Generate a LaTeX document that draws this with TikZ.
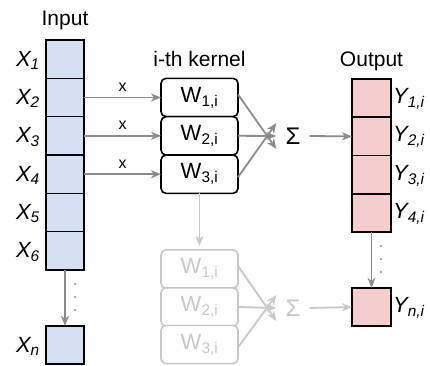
\documentclass[tikz,border=0pt]{standalone}
\usepackage{fontspec}
\setmainfont{Liberation Sans}
\usetikzlibrary{arrows.meta}
\definecolor{inblue}{HTML}{D4E1F4}
\definecolor{outpink}{HTML}{F5CDCD}
\definecolor{arrgray}{HTML}{8C8C8C}
\definecolor{fadegray}{HTML}{C8C8C8}
\begin{document}
\begin{tikzpicture}[x=1pt,y=-1pt,
  incell/.style={draw=black,line width=1.6pt,fill=inblue,minimum width=38pt,minimum height=38.3pt,inner sep=0pt,outer sep=0pt},
  outcell/.style={draw=black,line width=1.6pt,fill=outpink,minimum width=39pt,minimum height=38.25pt,inner sep=0pt,outer sep=0pt},
  kbox/.style={draw=black,line width=1.6pt,fill=white,rounded corners=5pt,minimum width=77pt,minimum height=38.3pt,inner sep=0pt,outer sep=0pt,font=\fontsize{22}{24}\selectfont},
  fkbox/.style={kbox,draw=fadegray,text=fadegray},
  arr/.style={draw=arrgray,line width=1.8pt,-{Stealth[length=10pt,width=8pt,inset=3pt]}},
  farr/.style={arr,draw=fadegray,fill=fadegray},
  lbl/.style={font=\fontsize{21}{24}\selectfont,inner sep=0pt},
  xlbl/.style={font=\fontsize{22}{24}\selectfont\itshape,inner sep=0pt,anchor=east},
  ylbl/.style={font=\fontsize{22}{24}\selectfont\itshape,inner sep=0pt,anchor=west},
  small/.style={font=\fontsize{16}{18}\selectfont,inner sep=0pt},
  sig/.style={font=\fontsize{24}{26}\selectfont,inner sep=0pt},
  dot/.style={fill=arrgray,circle,inner sep=0pt,minimum size=2.2pt}
]
\useasboundingbox (0,0) rectangle (430,365);

% titles
\node[lbl] (tin) at (65,20) {Input};
\node[lbl] (tk) at (199.5,59) {i-th kernel};
\node[lbl] (tout) at (371.5,61) {Output};

% input column
\node[incell] (x1) at (65,59.2) {};
\node[incell] (x2) at (65,97.5) {};
\node[incell] (x3) at (65,135.8) {};
\node[incell] (x4) at (65,174.2) {};
\node[incell] (x5) at (65,212.5) {};
\node[incell] (x6) at (65,250.8) {};
\node[incell] (xn) at (65,345) {};
\foreach \n/\s in {x1/1,x2/2,x3/3,x4/4,x5/5,x6/6,xn/n}
  \node[xlbl] (l\n) at ([xshift=-6pt,yshift=-1pt]\n.west) {X\textsubscript{\s}};

\draw[arr] (x6.south) -- (xn.north);
\node[dot] (d1) at (75,284) {};
\node[dot] (d2) at (75,297) {};
\node[dot] (d3) at (75,310) {};

% kernel
\node[kbox] (k1) at (199.5,97.5) {W\textsubscript{1,i}};
\node[kbox] (k2) at (199.5,135.8) {W\textsubscript{2,i}};
\node[kbox] (k3) at (199.5,174.2) {W\textsubscript{3,i}};

\draw[arr] (x2.east) -- node[small,above=5pt] (m2) {x} (k1.west);
\draw[arr] (x3.east) -- node[small,above=5pt] (m3) {x} (k2.west);
\draw[arr] (x4.east) -- node[small,above=5pt] (m4) {x} (k3.west);

\node[sig] (s) at (293,136) {Σ};
\draw[arr] ([yshift=3pt]k1.east) -- ([shift={(-9pt,-13pt)}]s.west);
\draw[arr] (k2.east) -- ([xshift=-9pt]s.west);
\draw[arr] ([yshift=-3pt]k3.east) -- ([shift={(-9pt,13pt)}]s.west);

% output column
\node[outcell] (y1) at (371.5,98.1) {};
\node[outcell] (y2) at (371.5,136.4) {};
\node[outcell] (y3) at (371.5,174.6) {};
\node[outcell] (y4) at (371.5,212.9) {};
\node[outcell] (yn) at (371.5,307) {};
\foreach \n/\s in {y1/1,y2/2,y3/3,y4/4,yn/n}
  \node[ylbl] (l\n) at ([xshift=2pt,yshift=-1pt]\n.east) {Y\textsubscript{\s,i}};

\draw[arr] ([xshift=9pt]s.east) -- (y2.west);
\draw[arr] (y4.south) -- (yn.north);
\node[dot] (e1) at (381,246) {};
\node[dot] (e2) at (381,259) {};
\node[dot] (e3) at (381,272) {};

% faded kernel
\node[fkbox] (f1) at (199.5,269) {W\textsubscript{1,i}};
\node[fkbox] (f2) at (199.5,307) {W\textsubscript{2,i}};
\node[fkbox] (f3) at (199.5,344.5) {W\textsubscript{3,i}};
\node[sig,text=fadegray] (fs) at (293,308) {Σ};
\draw[farr,shorten >=4pt] (k3.south) -- (f1.north);
\draw[farr] ([yshift=3pt]f1.east) -- ([shift={(-9pt,-13pt)}]fs.west);
\draw[farr] (f2.east) -- ([xshift=-9pt]fs.west);
\draw[farr] ([yshift=-3pt]f3.east) -- ([shift={(-9pt,13pt)}]fs.west);
\draw[farr] ([xshift=9pt]fs.east) -- (yn.west);
\end{tikzpicture}
\end{document}
